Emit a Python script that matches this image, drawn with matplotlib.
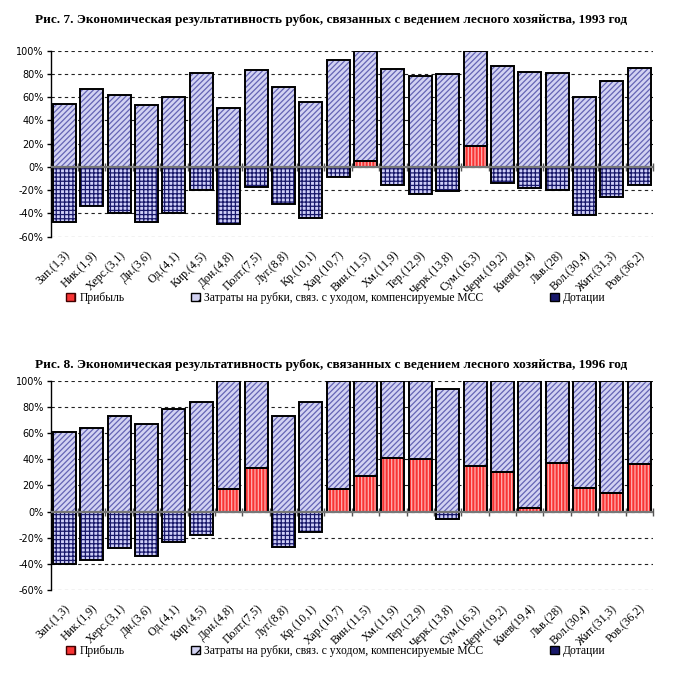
import numpy as np
import matplotlib
matplotlib.use('Agg')
import matplotlib.pyplot as plt
from matplotlib.patches import Patch

# Regions with the figure in brackets
regions = ['Зап.(1,3)', 'Ник.(1,9)', 'Херс.(3,1)', 'Дн.(3,6)', 'Од.(4,1)', 'Кир.(4,5)',
           'Дон.(4,8)', 'Полт.(7,5)', 'Луг.(8,8)', 'Кр.(10,1)', 'Хар.(10,7)', 'Вин.(11,5)',
           'Хм.(11,9)', 'Тер.(12,9)', 'Черк.(13,8)', 'Сум.(16,3)', 'Черн.(19,2)', 'Киев(19,4)',
           'Льв.(28)', 'Вол.(30,4)', 'Жит.(31,3)', 'Ров.(36,2)']

# 1993, percent
profit_93 = [0, 0, 0, 0, 0, 0, 0, 0, 0, 0, 0, 5, 0, 0, 0, 18, 0, 0, 0, 0, 0, 0]
cost_93 = [54, 67, 62, 53, 60, 81, 51, 83, 69, 56, 92, 95, 84, 78, 80, 82, 87, 82, 81, 60, 74, 85]
dot_93 = [-47, -34, -40, -47, -40, -20, -49, -17, -32, -44, -9, 0, -16, -23, -21, 0, -14, -18, -20, -41, -26, -16]

# 1996, percent
profit_96 = [0, 0, 0, 0, 0, 0, 17, 33, 0, 0, 17, 27, 41, 40, 0, 35, 30, 3, 37, 18, 14, 36]
cost_96 = [61, 64, 73, 67, 78, 84, 83, 67, 73, 84, 83, 73, 59, 60, 94, 65, 70, 97, 63, 82, 86, 64]
dot_96 = [-40, -37, -28, -34, -23, -18, 0, 0, -27, -16, 0, 0, 0, 0, -6, 0, 0, 0, 0, 0, 0, 0]

titles = ['Рис. 7. Экономическая результативность рубок, связанных с ведением лесного хозяйства, 1993 год',
          'Рис. 8. Экономическая результативность рубок, связанных с ведением лесного хозяйства, 1996 год']
legend_labels = ['Прибыль', 'Затраты на рубки, связ. с уходом, компенсируемые МСС', 'Дотации']

SERIF = 'Liberation Serif'
plt.rcParams['hatch.linewidth'] = 0.9

fig = plt.figure(figsize=(6.79, 6.98), dpi=100)


def hatched_bar(ax, x, h, bottom, face, hcolor, hatch):
    ax.bar(x, h, bottom=bottom, width=0.84, color=face, edgecolor=hcolor,
           hatch=hatch, linewidth=0, zorder=2)
    ax.bar(x, h, bottom=bottom, width=0.84, fill=False, edgecolor='black',
           linewidth=1.4, zorder=3)


def panel(rect, profit, cost, dot, title, title_y, legend_y):
    ax = fig.add_axes(rect)
    x = np.arange(len(regions))
    profit = np.array(profit)
    cost = np.array(cost)
    dot = np.array(dot)

    m = profit > 0
    hatched_bar(ax, x[m], profit[m], 0, '#f83434', '#ffb0b0', '|||||')
    hatched_bar(ax, x, cost, profit, '#d2d2f2', '#6464b4', '//////')
    m = dot < 0
    hatched_bar(ax, x[m], dot[m], 0, '#cfcff8', '#18186a', '++++')

    ax.set_xlim(-0.5, len(regions) - 0.5)
    ax.set_ylim(-60, 100)
    ax.set_yticks(np.arange(-60, 101, 20))
    ax.set_yticklabels([f'{v}%' for v in range(-60, 101, 20)], fontsize=7, family='DejaVu Sans')
    ax.yaxis.grid(True, linestyle=(0, (3, 3)), color='#222222', linewidth=0.8)
    ax.set_axisbelow(True)
    for s in ['top', 'right', 'bottom']:
        ax.spines[s].set_visible(False)
    ax.spines['left'].set_linewidth(1.0)
    ax.tick_params(axis='y', length=3, width=1, pad=2)

    ax.set_xticks(x)
    ax.set_xticklabels(regions, rotation=45, ha='right', va='top', rotation_mode='anchor',
                       fontsize=8.5, family=SERIF)
    ax.tick_params(axis='x', length=0, pad=9)

    # zero line with category separators
    ax.axhline(0, color='#777777', linewidth=1.6, zorder=4)
    sec = ax.secondary_xaxis(60 / 160)
    sec.set_xticks(np.arange(len(regions) + 1) - 0.5)
    sec.set_xticklabels([])
    sec.spines['bottom'].set_visible(False)
    sec.tick_params(axis='x', direction='inout', length=6, width=1, color='#555555')

    fig.text(0.487, title_y, title, ha='center', va='center', fontsize=9.5,
             fontweight='bold', family=SERIF)

    handles = [Patch(facecolor='#f83434', edgecolor='#400000', hatch='|'),
               Patch(facecolor='#d2d2f2', edgecolor='black', hatch='//'),
               Patch(facecolor='#18186a', edgecolor='black')]
    fig.legend(handles, legend_labels, ncol=3, loc='center left', bbox_to_anchor=(0.097, legend_y),
               frameon=False, prop={'family': SERIF, 'size': 8.4}, handlelength=0.75,
               handleheight=0.75, handletextpad=0.4, columnspacing=5.7,
               borderpad=0, borderaxespad=0)
    return ax


panel([0.0747, 0.661, 0.887, 0.2665], profit_93, cost_93, dot_93, titles[0], 0.971, 0.573)
panel([0.0747, 0.1547, 0.887, 0.2999], profit_96, cost_96, dot_96, titles[1], 0.477, 0.067)

plt.savefig('out.png', dpi=100)
